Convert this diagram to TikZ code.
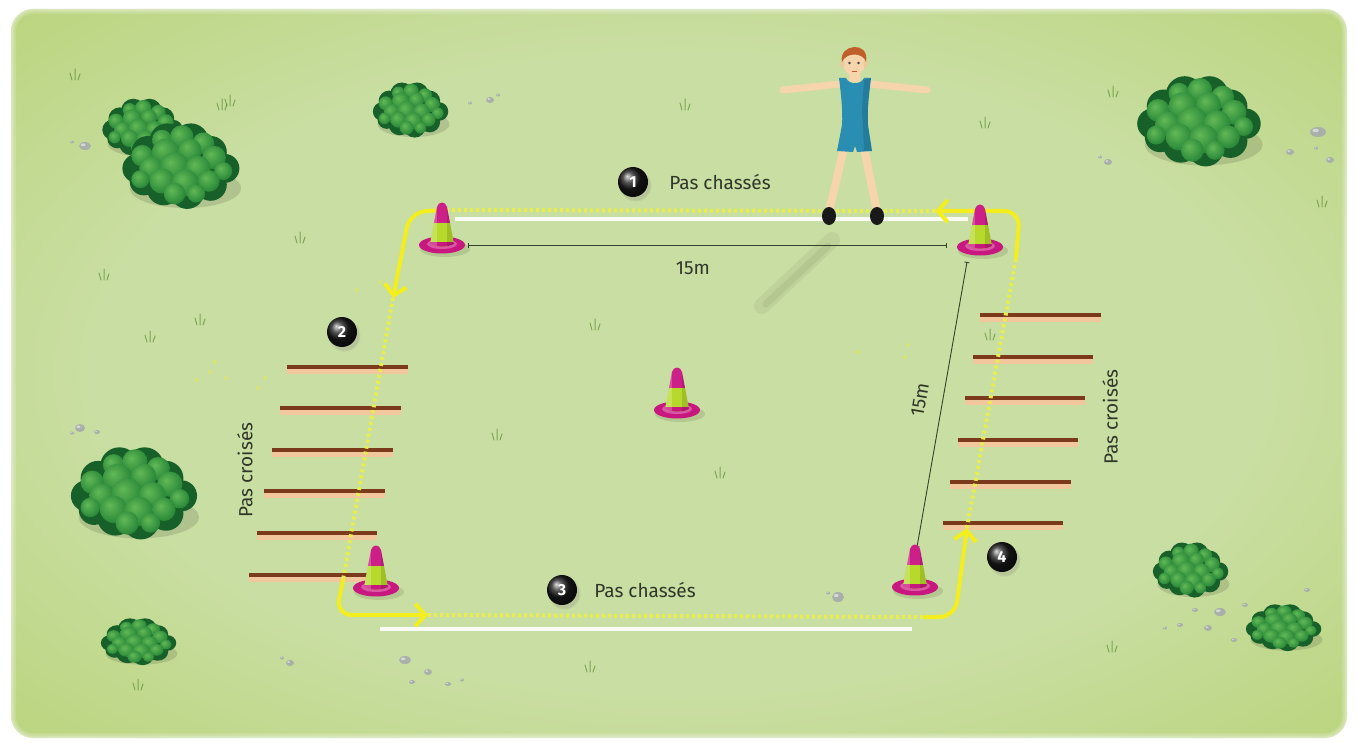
\documentclass[tikz,border=0pt]{standalone}
\usepackage{fontspec}
\setmainfont{Fira Sans}
\usetikzlibrary{arrows.meta,shadows}

\definecolor{fieldc}{HTML}{C9DEA2}
\definecolor{fieldm}{HTML}{B8D378}
\definecolor{fielde}{HTML}{A5C64A}
\definecolor{bushdark}{HTML}{18602A}
\definecolor{bushmid}{HTML}{2E8C3B}
\definecolor{bushlight}{HTML}{62B956}
\definecolor{grassc}{HTML}{5E8E34}
\definecolor{stonec}{HTML}{A9B0AA}
\definecolor{yellowc}{HTML}{F4EE1E}
\definecolor{yellowd}{HTML}{E8EE4E}
\definecolor{bardark}{HTML}{7A3A1B}
\definecolor{barlight}{HTML}{F2C79E}
\definecolor{conepink}{HTML}{CC1F88}
\definecolor{conerim}{HTML}{C8177F}
\definecolor{conegreen}{HTML}{B7D92C}
\definecolor{textc}{HTML}{30362A}
\definecolor{dimc}{HTML}{34422A}
\definecolor{skin}{HTML}{F7D5AC}
\definecolor{hair}{HTML}{BF602B}
\definecolor{leo}{HTML}{2A8EB2}

\pgfdeclareradialshading{fieldglow}{\pgfpoint{0bp}{0bp}}{%
  color(0bp)=(fieldc); color(22bp)=(fieldc); color(38bp)=(fieldm);
  color(50bp)=(fielde); color(80bp)=(fielde)}
\pgfdeclareradialshading{lump}{\pgfpoint{-8bp}{8bp}}{%
  color(0bp)=(bushlight); color(26bp)=(bushmid); color(44bp)=(bushdark);
  color(60bp)=(bushdark)}

\tikzset{
  bush/.pic={
    \fill[black, opacity=0.12] (6,28) ellipse [x radius=62, y radius=22];
    \foreach \px/\py/\pr in {-48/6/16, -36/-12/18, -14/-24/20, 12/-24/20, 34/-12/18,
        50/6/16, 34/24/18, 8/32/19, -18/28/19, -40/20/16, 0/2/30}
      \fill[bushdark] (\px,\py) circle [radius=\pr];
    \foreach \px/\py/\pr in {-20/-26/11, 2/-29/13, 26/-22/12,
        -42/-8/12, -16/-12/15, 11/-14/13, 38/-6/13,
        -32/6/13, -6/4/16, 20/6/14, 48/9/10,
        -44/18/10, -20/20/14, 6/22/15, 32/20/12,
        -6/34/12, 18/34/10}
      \shade[shading=lump] (\px,\py) circle [radius=\pr];
  },
  cone/.pic={
    \fill[black, opacity=0.10] (3,4) ellipse [x radius=25, y radius=8];
    \fill[conerim] (0,0) ellipse [x radius=23, y radius=8.5];
    \fill[conepink!75!white] (0,-1) ellipse [x radius=15, y radius=5];
    \begin{scope}
      \clip (-12,-1) -- (-5,-38) .. controls (-3.5,-44) and (3.5,-44) .. (5,-38)
        -- (12,-1) .. controls (6,2.5) and (-6,2.5) .. (-12,-1) -- cycle;
      \fill[conegreen] (-13,4) rectangle (13,-22);
      \fill[conepink] (-13,-22) rectangle (13,-46);
      \fill[conerim] (-13,4) rectangle (13,-3);
      \fill[white, opacity=0.22] (-13,4) rectangle (-5,-46);
      \fill[black, opacity=0.12] (5,4) rectangle (13,-46);
    \end{scope}
  },
  tuft/.pic={
    \draw[grassc, opacity=0.7, line width=1pt, line cap=round]
      (-3,0) -- (-5,-7) (0,0) -- (0,-11) (3,0) -- (5,-6);
  },
  badge/.style={circle, minimum size=30pt, inner sep=0pt, shading=ball,
    ball color=black!90, text=white,
    circular drop shadow={shadow xshift=2pt, shadow yshift=-3pt, opacity=0.25},
    font=\bfseries\fontsize{16}{16}\selectfont},
  notetext/.style={text=textc, inner sep=0pt, font=\fontsize{19}{22}\selectfont},
  trackline/.style={draw=yellowc, line width=4pt, line cap=round, rounded corners=16pt},
  trackdots/.style={draw=yellowd, line width=4pt, dash pattern=on 3pt off 3pt},
  trackarrow/.style={-{Straight Barb[length=10pt, width=22pt]}},
  whiteline/.style={draw=white, opacity=0.9, line width=4pt},
  dimline/.style={draw=dimc, line width=0.9pt, {Bar[width=5pt]}-{Bar[width=5pt]}},
  stone/.style={fill=stonec},
  speck/.style={fill=yellowc, opacity=0.5},
}

\begin{document}
\begin{tikzpicture}[x=1pt, y=-1pt]
\useasboundingbox (0,0) rectangle (1357,746);
\fill[white] (0,0) rectangle (1357,746);

% the meadow, with a soft white fade at its border
\shade[shading=fieldglow, rounded corners=22pt] (11,9) rectangle (1347,738);
\foreach \w in {2,4,7,10}
  \draw[white, opacity=0.14, line width=\w pt, rounded corners=22pt] (11,9) rectangle (1347,738);

% grass tufts
\foreach \gx/\gy in {75/80, 222/110, 230/106, 300/243, 200/325, 150/342, 104/280,
    685/110, 985/128, 1113/97, 1322/207, 595/330, 497/440, 720/478, 590/672,
    1112/652, 138/690, 990/340}
  \pic at (\gx,\gy) {tuft};

% pebbles
\foreach \sx/\sy/\rx/\ry in {85/146/6/4, 72/142/2/1.5, 470/103/2/1.5, 490/100/4/3,
    498/95/2/1.5, 1318/132/8/5, 1290/152/4/3, 1330/160/4/3, 1108/162/4/3,
    1100/157/2/1.5, 1316/148/2/1.5, 80/428/5/4, 97/432/3/2, 72/433/2/1.5,
    290/663/4/3, 282/658/2/1.5, 405/660/6/4, 428/672/4/3, 412/682/3/2,
    448/684/3/2, 462/680/2/1.5, 838/597/6/5, 828/593/2/1.5, 1220/612/6/4,
    1195/610/3/2, 1208/628/4/3, 1180/625/3/2, 1245/605/3/2, 1307/590/3/2,
    1300/640/3/2, 1234/640/3/2, 1165/628/2/1.5}
  {\fill[stone] (\sx,\sy) ellipse [x radius=\rx, y radius=\ry];
   \fill[white, opacity=0.5] (\sx-0.3*\rx,\sy-0.3*\ry) ellipse [x radius=0.4*\rx, y radius=0.35*\ry];}

% faint yellow specks
\foreach \kx/\ky in {197/380, 210/372, 226/378, 215/362, 357/290, 380/282,
    858/352, 908/345, 905/357, 265/378, 258/388}
  \fill[speck] (\kx,\ky) circle [radius=1.8];

% bushes
\pic[scale=0.62] at (142,126) {bush};
\pic[scale=0.9] at (180,163) {bush};
\pic[scale=0.58] at (410,108) {bush};
\pic[scale=0.95] at (1198,118) {bush};
\pic[scale=0.97] at (133,490) {bush};
\pic[scale=0.58, yscale=0.85] at (138,640) {bush};
\pic[scale=0.58] at (1190,568) {bush};
\pic[scale=0.58, yscale=0.85] at (1283,626) {bush};

% shadow of the athlete
\draw[black, opacity=0.05, line width=16pt, line cap=round] (832,240) -- (762,306);
\draw[black, opacity=0.05, line width=7pt, line cap=round] (828,246) -- (766,304);

% cone positions (base centres)
\coordinate (coneTL) at (442,245);
\coordinate (coneTR) at (980,247);
\coordinate (coneBL) at (376,588);
\coordinate (coneBR) at (915,587);
\coordinate (coneC)  at (677,410);

% white lines along the long sides
\draw[whiteline] (455,219) -- (968,219);
\draw[whiteline] (380,629) -- (912,629);

% ladders
\foreach \ly/\la/\lb in {367/287/408, 408/280/401, 450/272/393, 491/264/385,
    533/257/377, 575/249/367, 315/980/1101, 357/973/1093, 398/965/1085,
    440/958/1078, 482/950/1071, 523/943/1063}
  {\draw[barlight, line width=5pt] (\la,\ly+4) -- (\lb,\ly+4);
   \draw[bardark, line width=4pt] (\la,\ly) -- (\lb,\ly);}

% dimension lines
\coordinate (dimA) at (468,245);
\coordinate (dimB) at (947,245);
\coordinate (dimC) at (967,262);
\coordinate (dimD) at (917,547);
\draw[dimline] (dimA) -- (dimB);
\draw[dimline] (dimC) -- (dimD);

% course corners
\coordinate (p1) at (1016,258);
\coordinate (k1) at (1020,211);
\coordinate (a1) at (935,211);
\coordinate (q1) at (446,210);
\coordinate (k2) at (410,212);
\coordinate (a2) at (393,298);
\coordinate (q2) at (343,580);
\coordinate (k3) at (336,615);
\coordinate (a3) at (428,615);
\coordinate (q3) at (925,617);
\coordinate (k4) at (955,617);
\coordinate (a4) at (967,528);

% dotted legs of the course
\draw[trackdots] (a1) -- (q1);
\draw[trackdots] (a2) -- (q2);
\draw[trackdots] (a3) -- (q3);
\draw[trackdots] (a4) -- (p1);

% solid turns with arrows
\draw[trackline, trackarrow] (p1) -- (k1) -- (a1);
\draw[trackline, trackarrow] (q1) -- (k2) -- (a2);
\draw[trackline, trackarrow] (q2) -- (k3) -- (a3);
\draw[trackline, trackarrow] (q3) -- (k4) -- (a4);

% cones
\pic at (coneTL) {cone};
\pic at (coneTR) {cone};
\pic at (coneBL) {cone};
\pic at (coneBR) {cone};
\pic at (coneC) {cone};

% athlete
\draw[skin, line width=8pt, line cap=round] (844,148) -- (830,207);
\draw[skin, line width=8pt, line cap=round] (864,148) -- (876,207);
\fill[black!90] (829,216) ellipse [x radius=7, y radius=9];
\fill[black!90] (877,216) ellipse [x radius=7, y radius=9];
\draw[skin, line width=7pt, line cap=round] (840,84) -- (783,90);
\draw[skin, line width=7pt, line cap=round] (870,84) -- (927,90);
\fill[skin] (849,68) rectangle (860,82);
\fill[leo] (839,78) -- (846,78) .. controls (849,85) and (861,85) .. (864,78)
  -- (871,78) .. controls (869,95) and (867,110) .. (868,125) -- (872,151)
  -- (857,152) -- (855,146) -- (853,152) -- (837,151) -- (842,125)
  .. controls (843,110) and (841,95) .. (839,78) -- cycle;
\fill[black, opacity=0.12] (864,80) -- (871,78) .. controls (869,95) and (867,110) .. (868,125)
  -- (872,151) -- (864,151) -- (862,110) -- cycle;
\fill[skin] (854,62) ellipse [x radius=11.5, y radius=13.5];
\fill[skin!85!brown] (842.5,64) ellipse [x radius=2.2, y radius=3.5];
\fill[skin!85!brown] (865.5,64) ellipse [x radius=2.2, y radius=3.5];
\fill[hair] (842,62) .. controls (838,44) and (870,40) .. (866,62)
  .. controls (863,52) and (846,52) .. (842,62) -- cycle;
\fill[black!75] (849.5,63) circle [radius=1.4];
\fill[black!75] (858.5,63) circle [radius=1.4];
\draw[brown!70!red, line width=0.8pt] (851.5,71) -- (856.5,71);

% step numbers
\node[badge] (b1) at (633,182) {1};
\node[badge] (b2) at (342,332) {2};
\node[badge] (b3) at (562,590) {3};
\node[badge] (b4) at (1002,557) {4};

% labels
\node[notetext] (t1) at (720,182) {Pas chassés};
\node[notetext] (t3) at (645,590) {Pas chassés};
\node[notetext] (m1) at (693,268) {15m};
\node[notetext, rotate=80] (m2) at (920,400) {15m};
\node[notetext, rotate=90] (t2) at (245,470) {Pas croisés};
\node[notetext, rotate=90] (t4) at (1110,417) {Pas croisés};
\end{tikzpicture}
\end{document}
